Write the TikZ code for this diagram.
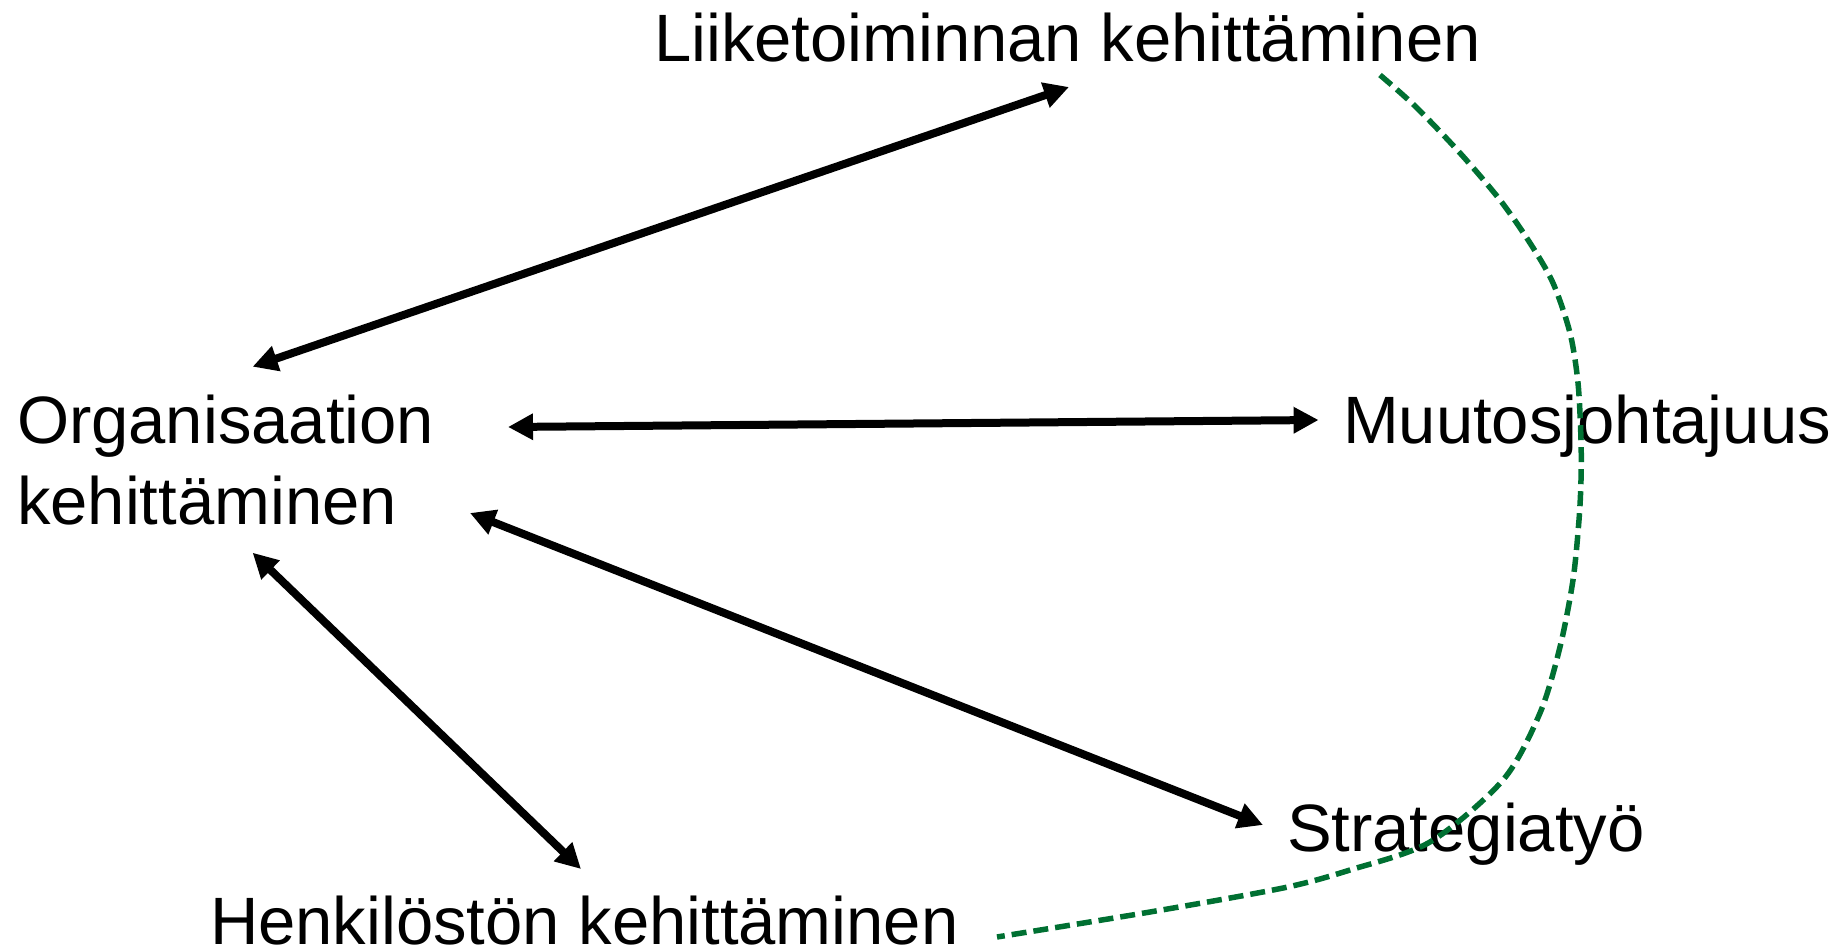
\documentclass[tikz,border=0pt]{standalone}
\usepackage{fontspec}
\setmainfont{Liberation Sans}
\usetikzlibrary{arrows.meta}
\definecolor{dgreen}{RGB}{0,112,50}
\tikzset{
  lbl/.style={anchor=base west, inner sep=0pt, outer sep=0pt, font=\fontsize{67}{81}\selectfont, align=left},
  biarrow/.style={line width=8pt, draw=black, {Triangle[length=25pt,width=25pt]}-{Triangle[length=25pt,width=25pt]}},
  greendash/.style={line width=5.5pt, draw=dgreen, dash pattern=on 15pt off 7pt}
}
\begin{document}
\begin{tikzpicture}[x=1pt,y=-1pt]
\useasboundingbox (0,0) rectangle (1848,952);
\node[lbl] (liike) at (654,62) {Liiketoiminnan kehittäminen};
\node[lbl] (org) at (17,524) {Organisaation\\kehittäminen};
\node[lbl] (muutos) at (1343,443) {Muutosjohtajuus};
\node[lbl] (strat) at (1287,851) {Strategiatyö};
\node[lbl] (henk) at (210,944) {Henkilöstön kehittäminen};
% arrow ends
\coordinate (o1) at (252.6,366.7);
\coordinate (l1) at (1069,87);
\coordinate (o2) at (508,427);
\coordinate (m1) at (1318.6,420);
\coordinate (o3) at (470,513);
\coordinate (s1) at (1263,825);
\coordinate (o4) at (252.6,552.7);
\coordinate (h1) at (581,869);
\draw[biarrow] (o1) -- (l1);
\draw[biarrow] (o2) -- (m1);
\draw[biarrow] (o3) -- (s1);
\draw[biarrow] (o4) -- (h1);
% dashed curve
\coordinate (ds) at (1380,75);
\coordinate (de) at (997,937);
\draw[greendash] plot[smooth, tension=0.5] coordinates {(ds) (1416,107) (1460,153) (1500,200) (1530,243) (1553,283) (1570,333) (1578,383) (1581,440) (1581,480) (1579,520) (1573,580) (1560,647) (1540,713) (1503,780) (1430,842) (1350,870) (1283,888) (1150,912) (de)};
\end{tikzpicture}
\end{document}
